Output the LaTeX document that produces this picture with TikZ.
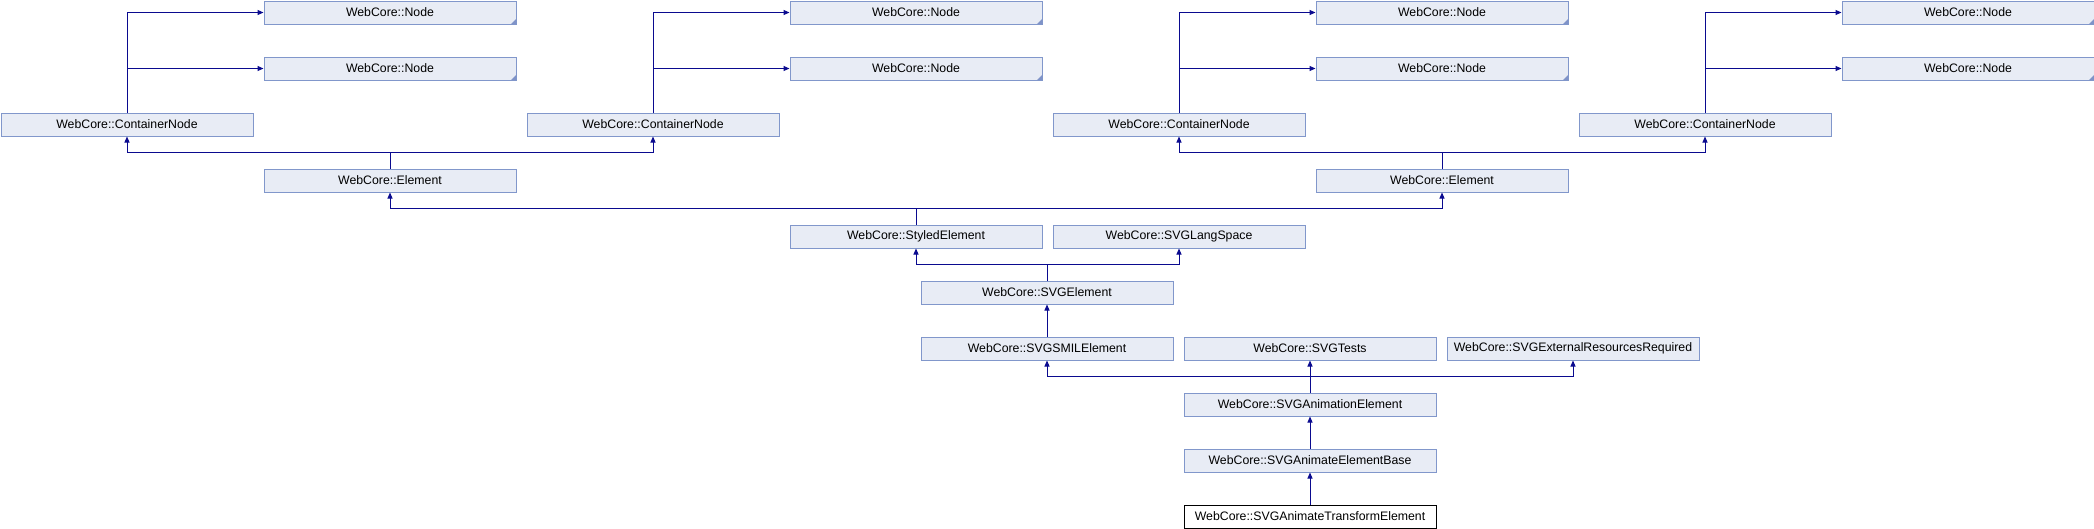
\documentclass[tikz,border=0pt]{standalone}
\usepackage{fontspec}
\setmainfont{Liberation Sans}
\usetikzlibrary{arrows.meta}
\definecolor{boxfill}{HTML}{E8ECF5}
\definecolor{boxline}{HTML}{8197CB}
\definecolor{edgecol}{HTML}{0A0A8F}
\definecolor{tricol}{HTML}{7F93C8}
\begin{document}
\begin{tikzpicture}[x=1pt,y=-1pt,
  cls/.style={draw=boxline, fill=boxfill, line width=1pt, minimum width=252pt, minimum height=23pt,
    inner sep=0pt, anchor=north west, font=\fontsize{12.3}{14}\selectfont},
  cur/.style={cls, draw=black, fill=white},
  arr/.style={draw=edgecol, line width=1pt, -{Triangle[length=6pt,width=5pt]}},
  trunc/.style={fill=tricol}]
\useasboundingbox (0,0) rectangle (2094,528);
% nodes
\node[cls] (n1a) at (263.5,0.5) {WebCore::Node};
\node[cls] (n1b) at (263.5,56.5) {WebCore::Node};
\node[cls] (cn1) at (0.5,112.5) {WebCore::ContainerNode};
\node[cls] (n2a) at (789.5,0.5) {WebCore::Node};
\node[cls] (n2b) at (789.5,56.5) {WebCore::Node};
\node[cls] (cn2) at (526.5,112.5) {WebCore::ContainerNode};
\node[cls] (n3a) at (1315.5,0.5) {WebCore::Node};
\node[cls] (n3b) at (1315.5,56.5) {WebCore::Node};
\node[cls] (cn3) at (1052.5,112.5) {WebCore::ContainerNode};
\node[cls] (n4a) at (1841.5,0.5) {WebCore::Node};
\node[cls] (n4b) at (1841.5,56.5) {WebCore::Node};
\node[cls] (cn4) at (1578.5,112.5) {WebCore::ContainerNode};
\node[cls] (el1) at (263.5,168.5) {WebCore::Element};
\node[cls] (el2) at (1315.5,168.5) {WebCore::Element};
\node[cls] (sty) at (789.5,224.5) {WebCore::StyledElement};
\node[cls] (lang) at (1052.5,224.5) {WebCore::SVGLangSpace};
\node[cls] (svg) at (920.5,280.5) {WebCore::SVGElement};
\node[cls] (smil) at (920.5,336.5) {WebCore::SVGSMILElement};
\node[cls] (tests) at (1183.5,336.5) {WebCore::SVGTests};
\node[cls] (ext) at (1446.5,336.5) {WebCore::SVGExternalResourcesRequired};
\node[cls] (anim) at (1183.5,392.5) {WebCore::SVGAnimationElement};
\node[cls] (base) at (1183.5,448.5) {WebCore::SVGAnimateElementBase};
\node[cur] (tr) at (1183.5,504.5) {WebCore::SVGAnimateTransformElement};
% truncation marks
\foreach \n in {n1a,n1b,n2a,n2b,n3a,n3b,n4a,n4b}
  \fill[trunc] ([shift={(-0.5,-0.5)}]\n.south east) -- ++(-5,0) -- ++(5,-5) -- cycle;
% connectors
\foreach \c/\a/\b in {cn1/n1a/n1b, cn2/n2a/n2b, cn3/n3a/n3b, cn4/n4a/n4b}{
  \draw[arr] (\c.north) |- (\a.west);
  \draw[arr] (\c.north) |- (\b.west);
}
\draw[arr] (el1.north) -- ++(0,-16) -| (cn1.south);
\draw[arr] (el1.north) -- ++(0,-16) -| (cn2.south);
\draw[arr] (el2.north) -- ++(0,-16) -| (cn3.south);
\draw[arr] (el2.north) -- ++(0,-16) -| (cn4.south);
\draw[arr] (sty.north) -- ++(0,-16) -| (el1.south);
\draw[arr] (sty.north) -- ++(0,-16) -| (el2.south);
\draw[arr] (svg.north) -- ++(0,-16) -| (sty.south);
\draw[arr] (svg.north) -- ++(0,-16) -| (lang.south);
\draw[arr] (smil.north) -- (svg.south);
\draw[arr] (anim.north) -- ++(0,-16) -| (smil.south);
\draw[arr] (anim.north) -- (tests.south);
\draw[arr] (anim.north) -- ++(0,-16) -| (ext.south);
\draw[arr] (base.north) -- (anim.south);
\draw[arr] (tr.north) -- (base.south);
\end{tikzpicture}
\end{document}
